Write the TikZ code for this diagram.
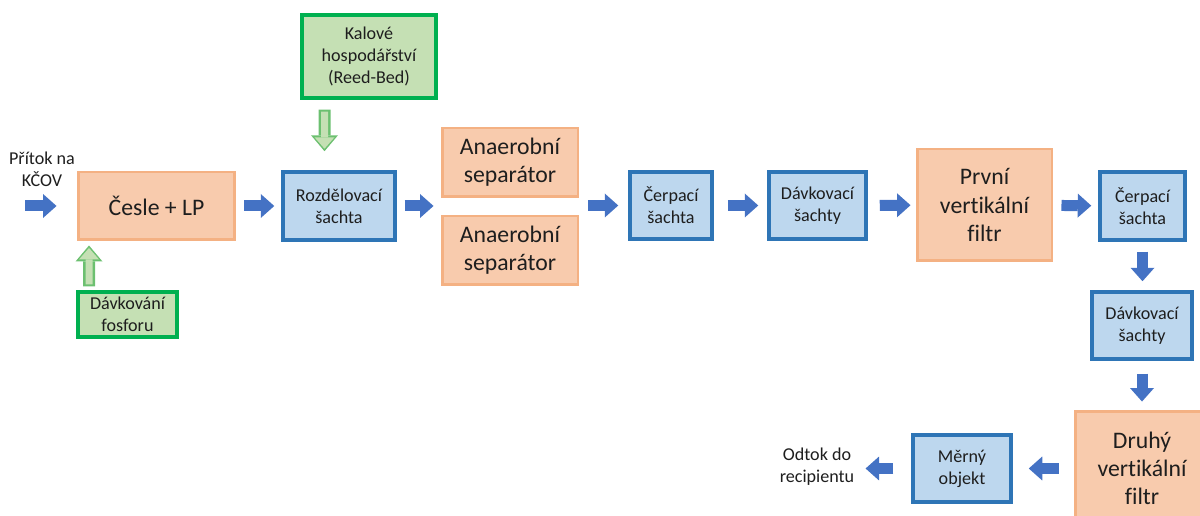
\documentclass[tikz,border=0pt]{standalone}
\usepackage{fontspec}
\setmainfont{Carlito}[Ligatures={NoCommon}]
\usetikzlibrary{arrows.meta,calc}
\definecolor{oranzfill}{HTML}{F8CBAD}
\definecolor{oranzline}{HTML}{F4B183}
\definecolor{modrafill}{HTML}{BDD7EE}
\definecolor{modraline}{HTML}{2E75B6}
\definecolor{zelfill}{HTML}{C5E0B4}
\definecolor{zelline}{HTML}{00B050}
\definecolor{zelsipka}{HTML}{6CC070}
\definecolor{sipka}{HTML}{4472C4}
\definecolor{text}{HTML}{1E1E1E}

\begin{document}
\begin{tikzpicture}[x=0.02cm, y=-0.02cm, text=text,
    velky/.style={font=\fontsize{13.5}{16}\selectfont},
    maly/.style={font=\fontsize{10.3}{12.5}\selectfont},
    oranz/.style={draw=oranzline, fill=oranzfill, line width=1.7pt, align=center, inner sep=0pt, velky},
    modra/.style={draw=modraline, fill=modrafill, line width=2pt, align=center, inner sep=0pt, maly},
    zelena/.style={draw=zelline, fill=zelfill, line width=1.8pt, align=center, inner sep=0pt, maly},
    popis/.style={align=center, inner sep=0pt, maly},
    tok/.style={draw=sipka, line width=0.22cm, shorten <=0.16cm, shorten >=0.14cm,
      -{Triangle[width=0.48cm, length=0.27cm, line width=0pt]}},
    zvnej/.style={draw=zelsipka, line width=0.24cm,
      -{Triangle[width=0.54cm, length=0.32cm, line width=0pt]}},
    zvnitr/.style={draw=zelfill, line width=0.14cm,
      -{Triangle[width=0.4cm, length=0.23cm, line width=0pt]}}]
  \useasboundingbox (0,0) rectangle (1200,516);

  % bloky - hlavni linka
  \node[oranz, minimum width=3.14cm, minimum height=1.36cm] (cesle) at (156.5,206) {Česle + LP};
  \node[modra, minimum width=2.24cm, minimum height=1.36cm] (rozd) at (339,206) {Rozdělovací\\šachta};
  \node[oranz, minimum width=2.72cm, minimum height=1.38cm] (anA) at (510,162.5) {Anaerobní\\separátor};
  \node[oranz, minimum width=2.72cm, minimum height=1.38cm] (anB) at (510,250.5) {Anaerobní\\separátor};
  \node[modra, minimum width=1.64cm, minimum height=1.34cm] (cerp1) at (671,205.5) {Čerpací\\šachta};
  \node[modra, minimum width=1.94cm, minimum height=1.34cm] (davk1) at (817.5,205.5) {Dávkovací\\šachty};
  \node[oranz, minimum width=2.7cm, minimum height=2.24cm] (prvni) at (984.5,205) {První\\vertikální\\filtr};
  \node[modra, minimum width=1.7cm, minimum height=1.36cm] (cerp2) at (1142.5,206) {Čerpací\\šachta};
  \node[modra, minimum width=2.0cm, minimum height=1.34cm] (davk2) at (1142,325.5) {Dávkovací\\šachty};
  \node[oranz, minimum width=2.68cm, minimum height=2.28cm] (druhy) at (1142,468) {Druhý\\vertikální\\filtr};
  \node[modra, minimum width=1.96cm, minimum height=1.34cm] (mern) at (962,468.5) {Měrný\\objekt};

  % vedlejsi bloky
  \node[zelena, minimum width=2.68cm, minimum height=1.66cm] (kal) at (369,56.5) {Kalové\\hospodářství\\(Reed-Bed)};
  \node[zelena, minimum width=1.98cm, minimum height=0.9cm] (fosf) at (127.5,314.5) {Dávkování\\fosforu};

  % texty
  \node[popis] (pritok) at (42,169) {Přítok na\\KČOV};
  \node[popis] (odtok) at (817,467) {Odtok do\\recipientu};
  \coordinate (vstup) at (25,206);

  % sipky
  \draw[tok, shorten <=0pt, shorten >=0.4cm] (vstup) -- (cesle.west);
  \draw[tok] (cesle) -- (rozd);
  \draw[tok] (rozd.east) -- (rozd.east -| anA.west);
  \draw[tok, shorten <=0.18cm, shorten >=0.2cm] (anA.east |- cerp1) -- (cerp1.west);
  \draw[tok, shorten <=0.28cm, shorten >=0.18cm] (cerp1) -- (davk1);
  \draw[tok, shorten <=0.24cm, shorten >=0.1cm] (davk1) -- (prvni);
  \draw[tok] (prvni) -- (cerp2);
  \draw[tok, shorten <=0.2cm, shorten >=0.18cm] (cerp2.south) -- (cerp2.south |- davk2.north);
  \draw[tok, shorten <=0.26cm, shorten >=0.16cm] (davk2.south) -- (davk2.south |- druhy.north);
  \draw[tok, shorten <=0.3cm, shorten >=0.32cm] (druhy.west |- mern) -- (mern.east);
  \draw[tok, shorten <=0.36cm, shorten >=0.22cm] (mern.west) -- (odtok.east |- mern);

  % zelene sipky
  \draw[zvnej, shorten <=0.2cm, shorten >=0.38cm] ([xshift=-0.89cm]kal.south) -- ([xshift=-0.29cm]rozd.north);
  \draw[zvnitr, shorten <=0.24cm, shorten >=0.43cm] ([xshift=-0.89cm]kal.south) -- ([xshift=-0.29cm]rozd.north);
  \draw[zvnej, shorten <=0.08cm, shorten >=0.08cm] ([xshift=-0.77cm]fosf.north) -- ([xshift=-1.35cm]cesle.south);
  \draw[zvnitr, shorten <=0.12cm, shorten >=0.13cm] ([xshift=-0.77cm]fosf.north) -- ([xshift=-1.35cm]cesle.south);
\end{tikzpicture}
\end{document}
